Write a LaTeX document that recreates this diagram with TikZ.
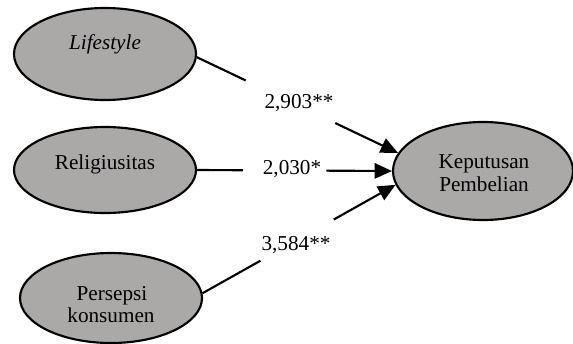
\documentclass[tikz,border=0pt]{standalone}
\usepackage{fontspec}
\setmainfont{Liberation Serif}
\usetikzlibrary{shapes.geometric,arrows.meta}
\definecolor{ovalgray}{RGB}{171,168,168}
\tikzset{
  oval/.style={ellipse, draw=black, line width=1.6pt, fill=ovalgray, inner sep=0pt},
  txt/.style={anchor=base, inner sep=0pt, font=\fontsize{15.9}{17.25}\selectfont},
  conn/.style={line width=1.6pt},
  arr/.style={line width=1.6pt, -{Triangle[length=13pt,width=11.5pt]}}
}
\begin{document}
\begin{tikzpicture}[x=0.75pt,y=-0.75pt]
\useasboundingbox (0,0) rectangle (573,343);
% ovals
\node[oval, minimum width=136.5pt, minimum height=69pt] (ls) at (105,54) {};
\node[oval, minimum width=136.5pt, minimum height=64.5pt] (rel) at (105,170) {};
\node[oval, minimum width=136.5pt, minimum height=67.5pt] (ps) at (111,298) {};
\node[oval, minimum width=135pt, minimum height=73.5pt] (kp) at (483,171) {};
% oval texts
\node[txt] (lst) at (105,49) {\itshape Lifestyle};
\node[txt] (relt) at (105,169) {Religiusitas};
\node[txt] (pst1) at (112,300) {Persepsi};
\node[txt] (pst2) at (111,322) {konsumen};
\node[txt] (kpt1) at (484,168) {Keputusan};
\node[txt] (kpt2) at (484,191) {Pembelian};
% connectors
\path (ls.-2) -- (kp.168) coordinate[pos=0.243] (a1) coordinate[pos=0.688] (a2);
\draw[conn] (ls.-2) -- (a1);
\draw[arr] (a2) -- (kp.168);
\path (rel.east) -- (kp.180) coordinate[pos=0.235] (b1) coordinate[pos=0.663] (b2);
\draw[conn] (rel.east) -- (b1);
\draw[arr] (b2) -- (kp.180);
\path (ps.3) -- (kp.189) coordinate[pos=0.30] (c1) coordinate[pos=0.68] (c2);
\draw[conn] (ps.3) -- (c1);
\draw[arr] (c2) -- (kp.189);
% labels
\node[txt] (l1) at (299,108) {2,903**};
\node[txt] (l2) at (292,174) {2,030*};
\node[txt] (l3) at (296,250) {3,584**};
\end{tikzpicture}
\end{document}
